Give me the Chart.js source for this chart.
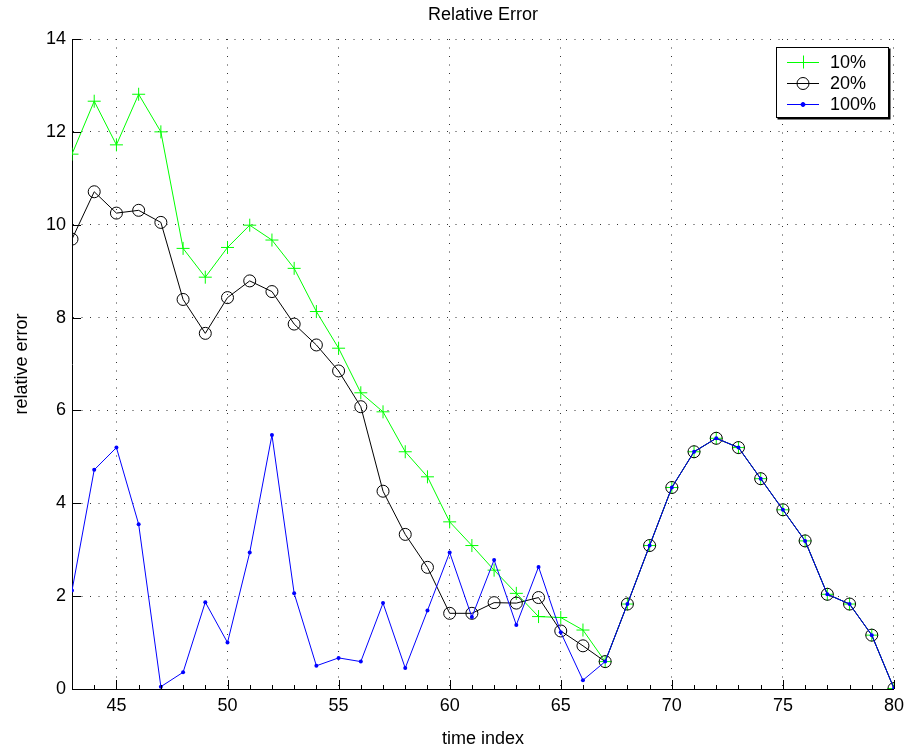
<!DOCTYPE html>
<html>
<head>
<meta charset="utf-8">
<script src="https://cdn.jsdelivr.net/npm/chart.js@4/dist/chart.umd.min.js"></script>
<style>
    body { margin: 0; background: #fff; }
</style>
</head>
<body>
<canvas id="Errors" width="910" height="754"></canvas>
<script>
const timeIndex = [43, 44, 45, 46, 47, 48, 49, 50, 51, 52, 53, 54, 55, 56, 57, 58, 59, 60, 61,
    62, 63, 64, 65, 66, 67, 68, 69, 70, 71, 72, 73, 74, 75, 76, 77, 78, 79, 80];
const err10 = [11.52, 12.66, 11.72, 12.81, 12.0, 9.49, 8.87, 9.51, 9.99, 9.67, 9.06, 8.13, 7.34,
    6.38, 5.97, 5.11, 4.57, 3.60, 3.09, 2.56, 2.06, 1.56, 1.54, 1.27, 0.59,
    1.83, 3.09, 4.34, 5.11, 5.40, 5.20, 4.53, 3.86, 3.19, 2.04, 1.83, 1.16, 0.01];
const err20 = [9.69, 10.71, 10.25, 10.31, 10.05, 8.39, 7.66, 8.43, 8.79, 8.56, 7.86, 7.41, 6.85,
    6.08, 4.26, 3.33, 2.62, 1.63, 1.63, 1.86, 1.85, 1.97, 1.25, 0.93, 0.59,
    1.83, 3.09, 4.34, 5.11, 5.40, 5.20, 4.53, 3.86, 3.19, 2.04, 1.83, 1.16, 0.01];
const err100 = [2.12, 4.72, 5.20, 3.55, 0.05, 0.36, 1.87, 1.00, 2.94, 5.47, 2.06, 0.50, 0.67,
    0.59, 1.85, 0.45, 1.69, 2.94, 1.55, 2.78, 1.38, 2.63, 1.22, 0.19, 0.59,
    1.83, 3.09, 4.34, 5.11, 5.40, 5.20, 4.53, 3.86, 3.19, 2.04, 1.83, 1.16, 0.01];
const seriesNames = ['10%', '20%', '100%'];
const xTicks = [45, 50, 55, 60, 65, 70, 75, 80];
const yTicks = [0, 2, 4, 6, 8, 10, 12, 14];
const chartTitle = 'Relative Error';

const font = 'Liberation Sans, Arial, Helvetica, sans-serif';

function points(vals) {
    return timeIndex.map(function(t, i) { return {x: t, y: vals[i]}; });
}

// title centred over the plot box, not the canvas
const plotTitle = {
    id: 'plotTitle',
    afterDraw(chart) {
        const c = chart.ctx;
        const area = chart.chartArea;
        c.save();
        c.font = '18px ' + font;
        c.fillStyle = '#000';
        c.textAlign = 'center';
        c.textBaseline = 'middle';
        c.fillText(chartTitle, (area.left + area.right) / 2, 15);
        c.restore();
    }
};

// inward tick marks like matlab
const tickMarks = {
    id: 'tickMarks',
    afterDatasetsDraw(chart) {
        const c = chart.ctx;
        const xs = chart.scales.x;
        const ys = chart.scales.y;
        const area = chart.chartArea;
        c.save();
        c.strokeStyle = '#000';
        c.lineWidth = 1;
        c.beginPath();
        for (let v = Math.ceil(xs.min); v <= xs.max; v++) {
            const px = Math.round(xs.getPixelForValue(v)) + 0.5;
            const len = xTicks.includes(v) ? 9 : 4;
            c.moveTo(px, area.bottom);
            c.lineTo(px, area.bottom - len);
        }
        yTicks.forEach(function(v) {
            const py = Math.round(ys.getPixelForValue(v)) + 0.5;
            c.moveTo(area.left, py);
            c.lineTo(area.left + 9, py);
        });
        c.stroke();
        c.restore();
    }
};

// matlab style legend box
const boxLegend = {
    id: 'boxLegend',
    afterDraw(chart) {
        const c = chart.ctx;
        const left = 776.5, top = 47.5, w = 112, h = 70;
        c.save();
        c.fillStyle = '#fff';
        c.fillRect(left, top, w, h);
        c.strokeStyle = '#000';
        c.lineWidth = 1;
        c.strokeRect(left, top, w, h);
        c.lineWidth = 2;
        c.beginPath();
        c.moveTo(left + 1, top + h + 1);
        c.lineTo(left + w + 1, top + h + 1);
        c.lineTo(left + w + 1, top + 1);
        c.stroke();
        c.font = '18px ' + font;
        c.textBaseline = 'middle';
        chart.data.datasets.forEach(function(ds, i) {
            const y = 62 + i * 21;
            c.strokeStyle = ds.borderColor;
            c.lineWidth = 1;
            c.beginPath();
            c.moveTo(787, y + 0.5);
            c.lineTo(819, y + 0.5);
            c.stroke();
            const mx = 803, r = ds.pointRadius;
            c.beginPath();
            if (ds.pointStyle === 'cross') {
                c.moveTo(mx - r, y + 0.5);
                c.lineTo(mx + r, y + 0.5);
                c.moveTo(mx + 0.5, y - r);
                c.lineTo(mx + 0.5, y + r);
                c.stroke();
            } else {
                c.arc(mx, y + 0.5, r, 0, Math.PI * 2);
                if (ds.pointBackgroundColor !== 'transparent') {
                    c.fillStyle = ds.pointBackgroundColor;
                    c.fill();
                }
                c.stroke();
            }
            c.fillStyle = '#000';
            c.fillText(ds.label, 830, y + 1);
        });
        c.restore();
    }
};

new Chart(document.getElementById('Errors'), {
    type: 'line',
    data: {
        datasets: [{
            label: seriesNames[0],
            data: points(err10),
            borderColor: '#00ff00',
            borderWidth: 1,
            pointStyle: 'cross',
            pointRadius: 6.5,
            pointBorderColor: '#00ff00',
            pointBorderWidth: 1,
            pointBackgroundColor: 'transparent',
            tension: 0,
            order: 3
        }, {
            label: seriesNames[1],
            data: points(err20),
            borderColor: '#000000',
            borderWidth: 1,
            pointStyle: 'circle',
            pointRadius: 6,
            pointBorderColor: '#000000',
            pointBorderWidth: 1,
            pointBackgroundColor: 'transparent',
            tension: 0,
            order: 2
        }, {
            label: seriesNames[2],
            data: points(err100),
            borderColor: '#0000ff',
            borderWidth: 1,
            pointStyle: 'circle',
            pointRadius: 2,
            pointBorderColor: '#0000ff',
            pointBorderWidth: 0,
            pointBackgroundColor: '#0000ff',
            tension: 0,
            order: 1
        }]
    },
    options: {
        responsive: false,
        animation: false,
        layout: { padding: { top: 39, right: 12, bottom: 0, left: 0 } },
        plugins: {
            legend: { display: false },
            tooltip: { enabled: false },
            title: { display: false }
        },
        scales: {
            x: {
                type: 'linear',
                min: 43,
                max: 80,
                afterBuildTicks: function(scale) {
                    scale.ticks = xTicks.map(function(v) { return {value: v}; });
                },
                afterFit: function(scale) { scale.height = 65; },
                grid: {
                    color: '#333',
                    lineWidth: 1,
                    drawTicks: false
                },
                border: { display: true, color: '#000', width: 1, dash: [1, 7.5] },
                ticks: {
                    color: '#000',
                    padding: 6,
                    maxRotation: 0,
                    font: { family: font, size: 18 }
                },
                title: {
                    display: true,
                    text: 'time index',
                    color: '#000',
                    padding: { top: 1 },
                    font: { family: font, size: 18 }
                }
            },
            y: {
                min: 0,
                max: 14,
                afterBuildTicks: function(scale) {
                    scale.ticks = yTicks.map(function(v) { return {value: v}; });
                },
                afterFit: function(scale) { scale.width = 72; },
                grid: {
                    color: '#333',
                    lineWidth: 1,
                    drawTicks: false
                },
                border: { display: true, color: '#000', width: 1, dash: [1, 7.5] },
                ticks: {
                    color: '#000',
                    padding: 6,
                    font: { family: font, size: 18 }
                },
                title: {
                    display: true,
                    text: 'relative error',
                    color: '#000',
                    padding: { top: 11 },
                    font: { family: font, size: 18 }
                }
            }
        }
    },
    plugins: [tickMarks, plotTitle, boxLegend]
});
</script>
</body>
</html>
